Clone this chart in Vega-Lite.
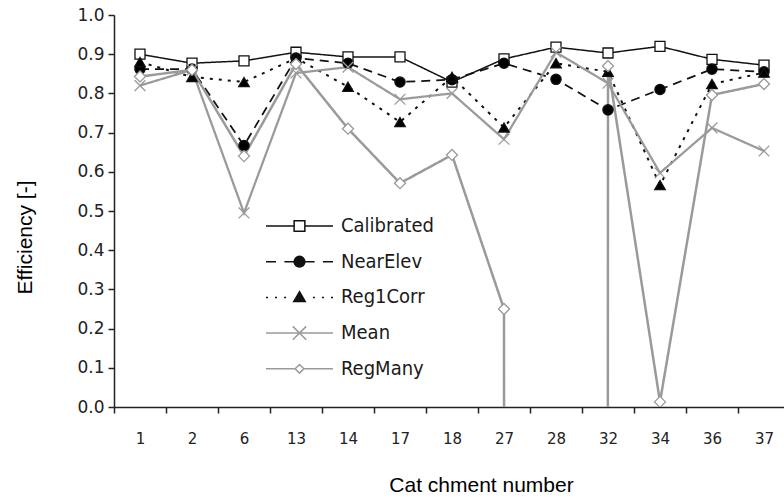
{
  "$schema": "https://vega.github.io/schema/vega-lite/v6.json",
  "width": 676,
  "height": 392,
  "autosize": {"type": "none"},
  "padding": {"left": 114, "top": 15, "right": 0, "bottom": 93},
  "background": "white",
  "config": {"view": {"stroke": null}, "font": "DejaVu Sans"},
  "data": {"values": [
    {"c": "1", "s": "Calibrated", "v": 0.900},
    {"c": "2", "s": "Calibrated", "v": 0.877},
    {"c": "6", "s": "Calibrated", "v": 0.883},
    {"c": "13", "s": "Calibrated", "v": 0.905},
    {"c": "14", "s": "Calibrated", "v": 0.893},
    {"c": "17", "s": "Calibrated", "v": 0.893},
    {"c": "18", "s": "Calibrated", "v": 0.829},
    {"c": "27", "s": "Calibrated", "v": 0.888},
    {"c": "28", "s": "Calibrated", "v": 0.918},
    {"c": "32", "s": "Calibrated", "v": 0.903},
    {"c": "34", "s": "Calibrated", "v": 0.920},
    {"c": "36", "s": "Calibrated", "v": 0.887},
    {"c": "37", "s": "Calibrated", "v": 0.872},
    {"c": "1", "s": "NearElev", "v": 0.862},
    {"c": "2", "s": "NearElev", "v": 0.862},
    {"c": "6", "s": "NearElev", "v": 0.667},
    {"c": "13", "s": "NearElev", "v": 0.890},
    {"c": "14", "s": "NearElev", "v": 0.877},
    {"c": "17", "s": "NearElev", "v": 0.829},
    {"c": "18", "s": "NearElev", "v": 0.835},
    {"c": "27", "s": "NearElev", "v": 0.877},
    {"c": "28", "s": "NearElev", "v": 0.836},
    {"c": "32", "s": "NearElev", "v": 0.758},
    {"c": "34", "s": "NearElev", "v": 0.810},
    {"c": "36", "s": "NearElev", "v": 0.862},
    {"c": "37", "s": "NearElev", "v": 0.855},
    {"c": "1", "s": "Reg1Corr", "v": 0.880},
    {"c": "2", "s": "Reg1Corr", "v": 0.842},
    {"c": "6", "s": "Reg1Corr", "v": 0.829},
    {"c": "13", "s": "Reg1Corr", "v": 0.890},
    {"c": "14", "s": "Reg1Corr", "v": 0.817},
    {"c": "17", "s": "Reg1Corr", "v": 0.727},
    {"c": "18", "s": "Reg1Corr", "v": 0.842},
    {"c": "27", "s": "Reg1Corr", "v": 0.713},
    {"c": "28", "s": "Reg1Corr", "v": 0.877},
    {"c": "32", "s": "Reg1Corr", "v": 0.855},
    {"c": "34", "s": "Reg1Corr", "v": 0.566},
    {"c": "36", "s": "Reg1Corr", "v": 0.824},
    {"c": "37", "s": "Reg1Corr", "v": 0.853},
    {"c": "1", "s": "Mean", "v": 0.820},
    {"c": "2", "s": "Mean", "v": 0.860},
    {"c": "6", "s": "Mean", "v": 0.495},
    {"c": "13", "s": "Mean", "v": 0.852},
    {"c": "14", "s": "Mean", "v": 0.867},
    {"c": "17", "s": "Mean", "v": 0.785},
    {"c": "18", "s": "Mean", "v": 0.800},
    {"c": "27", "s": "Mean", "v": 0.683},
    {"c": "28", "s": "Mean", "v": 0.905},
    {"c": "32", "s": "Mean", "v": 0.826},
    {"c": "34", "s": "Mean", "v": 0.597},
    {"c": "36", "s": "Mean", "v": 0.712},
    {"c": "37", "s": "Mean", "v": 0.653},
    {"c": "1", "s": "RegMany", "v": 0.843},
    {"c": "2", "s": "RegMany", "v": 0.860},
    {"c": "6", "s": "RegMany", "v": 0.640},
    {"c": "13", "s": "RegMany", "v": 0.875},
    {"c": "14", "s": "RegMany", "v": 0.710},
    {"c": "17", "s": "RegMany", "v": 0.571},
    {"c": "18", "s": "RegMany", "v": 0.643},
    {"c": "27", "s": "RegMany", "v": 0.250},
    {"c": "28", "s": "RegMany", "v": -300},
    {"c": "32", "s": "RegMany", "v": 0.870},
    {"c": "34", "s": "RegMany", "v": 0.013},
    {"c": "36", "s": "RegMany", "v": 0.796},
    {"c": "37", "s": "RegMany", "v": 0.824}
  ]},
  "encoding": {
    "x": {
      "field": "c", "type": "ordinal",
      "sort": ["1", "2", "6", "13", "14", "17", "18", "27", "28", "32", "34", "36", "37"],
      "scale": {"type": "band", "paddingInner": 0, "paddingOuter": 0},
      "axis": {
        "title": "Cat chment number", "labelAngle": 0, "tickBand": "extent", "grid": false,
        "domainColor": "#222", "domainWidth": 1.5, "tickColor": "#222", "tickWidth": 1.5, "tickSize": 6,
        "labelFont": "DejaVu Sans", "labelFontSize": 15, "labelColor": "#222", "labelPadding": 18,
        "titleFont": "Liberation Sans", "titleFontSize": 21, "titleFontWeight": "normal", "titleColor": "#000",
        "titleX": 367, "titleY": 78, "titleAlign": "center", "titleBaseline": "middle"
      }
    },
    "y": {
      "field": "v", "type": "quantitative",
      "scale": {"domain": [0, 1], "nice": false, "zero": false},
      "axis": {
        "title": "Efficiency [-]", "values": [0, 0.1, 0.2, 0.3, 0.4, 0.5, 0.6, 0.7, 0.8, 0.9, 1.0],
        "format": ".1f", "grid": false,
        "domainColor": "#222", "domainWidth": 1.5, "tickColor": "#222", "tickWidth": 1.5, "tickSize": 6,
        "labelFont": "DejaVu Sans", "labelFontSize": 17, "labelColor": "#222", "labelPadding": 4,
        "titleFont": "Liberation Sans", "titleFontSize": 21, "titleFontWeight": "normal", "titleColor": "#000",
        "titleX": -89, "titleY": 222, "titleAngle": -90, "titleAlign": "center", "titleBaseline": "middle"
      }
    }
  },
  "layer": [
    {
      "mark": {"type": "line", "clip": true, "strokeCap": "butt"},
      "encoding": {
        "stroke": {"field": "s", "type": "nominal", "legend": null,
          "scale": {"domain": ["Calibrated", "NearElev", "Reg1Corr", "Mean", "RegMany"], "range": ["#111", "#111", "#111", "#9a9a9a", "#9a9a9a"]}},
        "strokeDash": {"field": "s", "type": "nominal", "legend": null,
          "scale": {"domain": ["Calibrated", "NearElev", "Reg1Corr", "Mean", "RegMany"], "range": [[1, 0], [9, 6], [3, 6], [1, 0], [1, 0]]}},
        "strokeWidth": {"field": "s", "type": "ordinal", "legend": null,
          "scale": {"domain": ["Calibrated", "NearElev", "Reg1Corr", "Mean", "RegMany"], "range": [1.5, 2.5, 3, 1.5, 1.5]}}
      }
    },
    {
      "mark": {"type": "point", "clip": true, "opacity": 1, "strokeWidth": 1.3},
      "encoding": {
        "shape": {"field": "s", "type": "nominal", "legend": null,
          "scale": {"domain": ["Calibrated", "NearElev", "Reg1Corr", "Mean", "RegMany"], "range": ["square", "circle", "triangle-up", "M-1,-1L1,1M-1,1L1,-1", "diamond"]}},
        "fill": {"field": "s", "type": "nominal", "legend": null,
          "scale": {"domain": ["Calibrated", "NearElev", "Reg1Corr", "Mean", "RegMany"], "range": ["white", "black", "black", "transparent", "white"]}},
        "stroke": {"field": "s", "type": "nominal", "legend": null,
          "scale": {"domain": ["Calibrated", "NearElev", "Reg1Corr", "Mean", "RegMany"], "range": ["#111", "#111", "#111", "#9a9a9a", "#9a9a9a"]}},
        "size": {"field": "s", "type": "ordinal", "legend": null,
          "scale": {"domain": ["Calibrated", "NearElev", "Reg1Corr", "Mean", "RegMany"], "range": [100, 121, 121, 196, 81]}}
      }
    },
    {
      "mark": {"type": "point", "opacity": 1, "size": 0, "strokeWidth": 1.5},
      "encoding": {
        "shape": {"field": "s", "type": "nominal",
          "scale": {"domain": ["Calibrated", "NearElev", "Reg1Corr", "Mean", "RegMany"], "range": [
            "M-1,0H-0.16M0.16,0H1M-0.16,-0.16H0.16V0.16H-0.16Z",
            "M-1,0H-0.7M-0.45,0H0.45M0.7,0H1M-0.16,0A0.16,0.16 0 1,1 0.16,0A0.16,0.16 0 1,1 -0.16,0Z",
            "M-1,0H-0.94M-0.73,0H-0.67M-0.46,0H-0.4M0.4,0H0.46M0.67,0H0.73M0.94,0H1M0,-0.17L0.17,0.12L-0.17,0.12Z",
            "M-1,0H1M-0.2,-0.2L0.2,0.2M-0.2,0.2L0.2,-0.2",
            "M-1,0H-0.13M0.13,0H1M-0.13,0L0,-0.13L0.13,0L0,0.13Z"
          ]},
          "legend": {"orient": "none", "legendX": 151, "legendY": 196, "title": null, "symbolSize": 4489, "symbolStrokeWidth": 1.5, "clipHeight": 30,
            "labelFont": "DejaVu Sans Condensed, DejaVu Sans", "labelFontSize": 20, "labelColor": "#1a1a1a", "labelOffset": 7, "rowPadding": 5.7}},
        "fill": {"field": "s", "type": "nominal",
          "scale": {"domain": ["Calibrated", "NearElev", "Reg1Corr", "Mean", "RegMany"], "range": ["white", "#111", "#111", "transparent", "white"]},
          "legend": {"orient": "none", "legendX": 151, "legendY": 196, "title": null, "symbolSize": 4489, "symbolStrokeWidth": 1.5, "clipHeight": 30,
            "labelFont": "DejaVu Sans Condensed, DejaVu Sans", "labelFontSize": 20, "labelColor": "#1a1a1a", "labelOffset": 7, "rowPadding": 5.7}},
        "stroke": {"field": "s", "type": "nominal",
          "scale": {"domain": ["Calibrated", "NearElev", "Reg1Corr", "Mean", "RegMany"], "range": ["#111", "#111", "#111", "#9a9a9a", "#9a9a9a"]},
          "legend": {"orient": "none", "legendX": 151, "legendY": 196, "title": null, "symbolSize": 4489, "symbolStrokeWidth": 1.5, "clipHeight": 30,
            "labelFont": "DejaVu Sans Condensed, DejaVu Sans", "labelFontSize": 20, "labelColor": "#1a1a1a", "labelOffset": 7, "rowPadding": 5.7}}
      }
    }
  ],
  "resolve": {"scale": {"shape": "independent", "fill": "independent", "stroke": "independent", "size": "independent"}}
}
